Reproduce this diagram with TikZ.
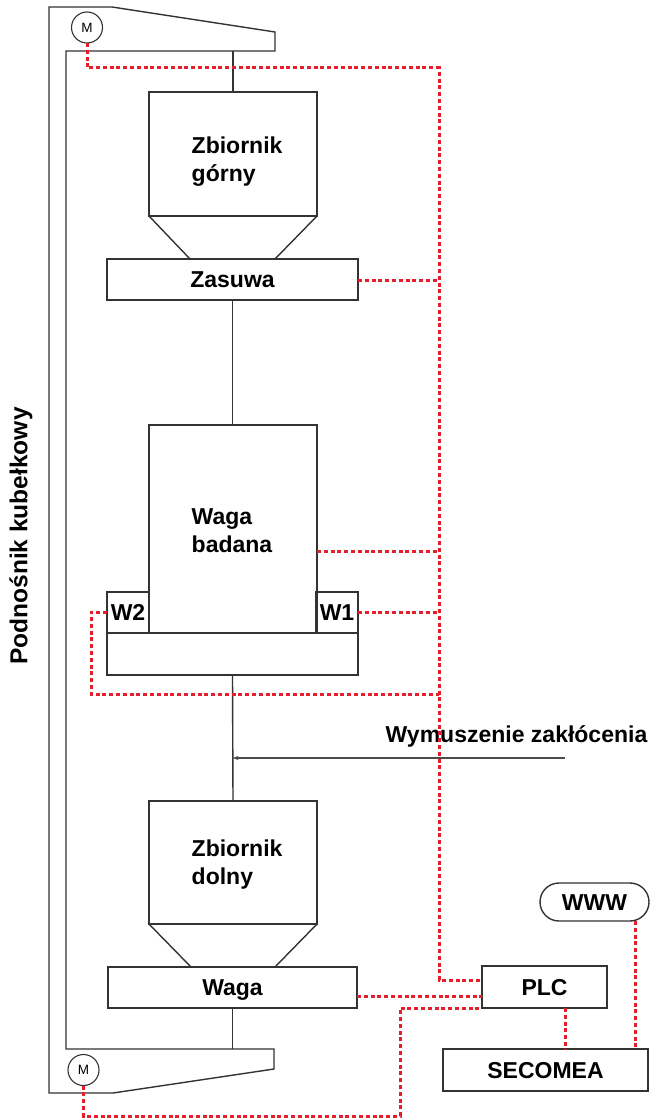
\documentclass[tikz,border=0pt]{standalone}
\usepackage{fontspec}
\setmainfont{Liberation Sans}
\usepackage{tikz}
\usetikzlibrary{arrows.meta}
\definecolor{sigred}{RGB}{228,30,42}

\begin{document}
\begin{tikzpicture}[x=1pt,y=-1pt,line width=1.4pt,
bx/.style n args={2}{draw=black!80,rectangle,minimum width=#1,minimum height=#2,inner sep=0pt,outer sep=0pt,text height=16pt,text depth=0pt,font=\fontsize{23}{28}\selectfont\bfseries},
txt/.style={font=\fontsize{23}{28}\selectfont\bfseries,inner sep=0pt,align=left},
sig/.style={draw=sigred,line width=3pt,dash pattern=on 4pt off 2.8pt},
mot/.style={draw=black!80,line width=1.1pt,circle,minimum size=31pt,inner sep=0pt,outer sep=0pt,font=\fontsize{13.5}{13.5}\selectfont}]
\useasboundingbox (0,0) rectangle (651,1118);
% elevator frame
\draw[black!80] (49,7) -- (112,7) -- (275,32) -- (275,51) -- (66,51) -- (66,1049)
   -- (274,1049) -- (274,1069) -- (113,1093) -- (49,1093) -- cycle;
\coordinate (ftop) at (233,51);
\coordinate (fbot) at (232.5,1049);
\node[mot] (m1) at (87,27.5) {M};
\node[mot] (m2) at (83.5,1070) {M};
\node[txt,rotate=90,font=\fontsize{24.5}{28}\selectfont\bfseries] (pk) at (21,536) {Podnośnik kubełkowy};
% tanks and scales
\node[bx={168pt}{124pt}] (zg) at (233,154) {};
\node[txt,anchor=base west] (zgt) at (191,182) {Zbiornik\\górny};
\node[bx={251pt}{41pt}] (zas) at (232.5,279.5) {Zasuwa};
\node[bx={168pt}{208pt}] (wb) at (233,529) {};
\node[txt,anchor=base west] (wbt) at (191,552) {Waga\\badana};
\node[bx={42pt}{41pt}] (w2) at (128,612.5) {W2};
\node[bx={42pt}{41pt}] (w1) at (337,612.5) {W1};
\node[bx={251pt}{42pt}] (base) at (232.5,654) {};
\node[bx={168pt}{123pt}] (zd) at (233,862.5) {};
\node[txt,anchor=base west] (zdt) at (191,884) {Zbiornik\\dolny};
\node[bx={249pt}{41pt}] (waga) at (232.5,987.5) {Waga};
\node[bx={125pt}{42pt}] (plc) at (544.5,987) {PLC};
\node[bx={205pt}{42pt}] (sec) at (545.5,1070) {SECOMEA};
\node[bx={109pt}{38pt},rounded corners=19pt] (www) at (594.5,902) {WWW};
\node[txt,anchor=base] (wz) at (516.5,742) {Wymuszenie zakłócenia};
\draw[black!80] (zg.south west) -- ([xshift=-42.5pt]zas.north)
   (zg.south east) -- ([xshift=42.5pt]zas.north);
\draw[black!80] (zd.south west) -- ([xshift=-41.5pt]waga.north)
   (zd.south east) -- ([xshift=42.5pt]waga.north);
\draw[black!80] (ftop) -- (zg.north);
\draw[black!80] (zas.south) -- (zas.south |- wb.north);
\draw[black!80] (base.south) -- (zd.north);
\draw[black!80] (waga.south) -- (fbot);
\coordinate (dist) at (565,758);
\draw[black!70,line width=1.2pt,-{Stealth[length=6pt,width=4pt]}] (dist) -- (dist -| base.south);
% signal lines
\coordinate (bt) at (439,68);
\coordinate (bb) at (439,980);
\coordinate (lk) at (400,1116);
\draw[sig] (m1.south) |- (bt) -- (bb) -- (bb -| plc.west);
\foreach \n/\y in {zas/280,wb/551,w1/612} {
   \coordinate (t) at (439,\y);
   \draw[sig] (t -| \n.east) -- (t);
}
\draw[sig] (w2.west) -- ++(-16,0) |- (439,694);
\draw[sig] ([yshift=-8.5pt]waga.east) -- ([yshift=-8.5pt]waga.east -| plc.west);
\draw[sig] (m2.south) |- (lk) |- (plc.south west);
\draw[sig] ([xshift=20.5pt]plc.south) -- ([xshift=20.5pt]plc.south |- sec.north);
\draw[sig] ([xshift=40.5pt]www.south) -- ([xshift=40.5pt]www.south |- sec.north);
\end{tikzpicture}
\end{document}
